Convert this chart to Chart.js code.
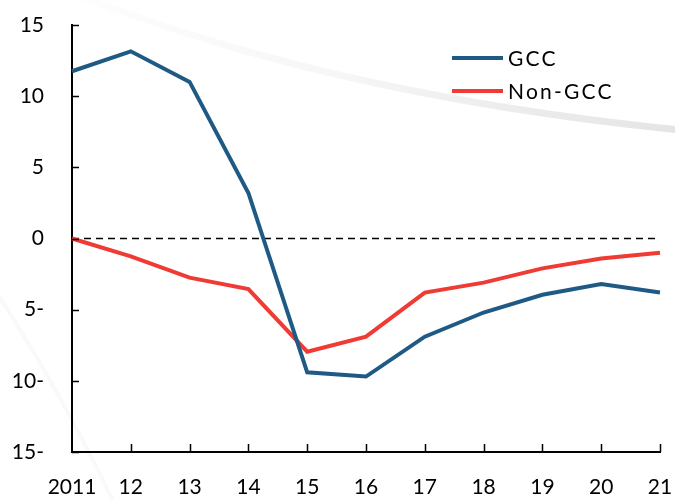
<!DOCTYPE html>
<html>
<head>
<meta charset="utf-8">
<script src="https://cdn.jsdelivr.net/npm/chart.js@4.4.1/dist/chart.umd.min.js"></script>
<style>
  html, body { margin: 0; padding: 0; background: #ffffff; }
  #wrap { width: 675px; height: 500px; position: relative; }
</style>
</head>
<body>
<div id="wrap"><canvas id="c" width="675" height="500"></canvas></div>
<script>
const categories = ['2011', '12', '13', '14', '15', '16', '17', '18', '19', '20', '21'];
const gccValues = [11.75, 13.15, 11.0, 3.2, -9.4, -9.7, -6.9, -5.2, -3.95, -3.2, -3.8];
const nonGccValues = [0.0, -1.25, -2.75, -3.55, -7.95, -6.9, -3.8, -3.1, -2.1, -1.4, -1.0];
const zeroLine = [0, 0, 0, 0, 0, 0, 0, 0, 0, 0, 0];
const seriesNames = ['GCC', 'Non-GCC'];
const seriesColors = ['#1f5a85', '#ef3b34'];
const yTickValues = [-15, -10, -5, 0, 5, 10, 15];
const yTickLabels = ['15-', '10-', '5-', '0', '5', '10', '15'];

const FONT = 'Lato, "Open Sans", sans-serif';

const backgroundSwoosh = {
  id: 'swoosh',
  beforeDraw(chart) {
    const ctx = chart.ctx;
    ctx.save();
    const g = ctx.createLinearGradient(60, 0, 675, 0);
    g.addColorStop(0, 'rgba(230,231,232,0.05)');
    g.addColorStop(0.45, 'rgba(230,231,232,0.35)');
    g.addColorStop(0.75, 'rgba(230,231,232,0.8)');
    g.addColorStop(1, 'rgba(228,229,230,1)');
    ctx.strokeStyle = g;
    ctx.lineWidth = 7;
    ctx.beginPath();
    ctx.moveTo(70, -8);
    ctx.quadraticCurveTo(330, 95, 680, 130);
    ctx.stroke();
    ctx.strokeStyle = 'rgba(238,239,240,0.35)';
    ctx.lineWidth = 4;
    ctx.beginPath();
    ctx.moveTo(-5, 290);
    ctx.quadraticCurveTo(60, 390, 115, 505);
    ctx.stroke();
    ctx.restore();
  }
};

const axisTicks = {
  id: 'axisTicks',
  afterDatasetsDraw(chart) {
    const ctx = chart.ctx;
    const x = chart.scales.x, y = chart.scales.y;
    ctx.save();
    ctx.strokeStyle = '#000';
    ctx.lineWidth = 1.5;
    ctx.beginPath();
    yTickValues.forEach(v => {
      const py = Math.round(y.getPixelForValue(v)) + 0.5;
      ctx.moveTo(x.left, py);
      ctx.lineTo(x.left + 7, py);
    });
    categories.forEach((c, i) => {
      if (i === 0) return;
      const px = Math.round(x.getPixelForValue(i)) + 0.5;
      ctx.moveTo(px, y.bottom);
      ctx.lineTo(px, y.bottom - 8);
    });
    ctx.stroke();
    ctx.restore();
  }
};

const customLegend = {
  id: 'customLegend',
  afterDraw(chart) {
    const ctx = chart.ctx;
    ctx.save();
    ctx.font = '21px ' + FONT;
    ctx.textBaseline = 'middle';
    ctx.textAlign = 'left';
    try { ctx.letterSpacing = '2.2px'; } catch (e) {}
    const rows = [58, 91];
    seriesNames.forEach((name, i) => {
      ctx.strokeStyle = seriesColors[i];
      ctx.lineWidth = 4;
      ctx.beginPath();
      ctx.moveTo(452, rows[i]);
      ctx.lineTo(503, rows[i]);
      ctx.stroke();
      ctx.fillStyle = '#000';
      ctx.fillText(name, 508, rows[i] + 1);
    });
    ctx.restore();
  }
};

new Chart(document.getElementById('c'), {
  type: 'line',
  data: {
    labels: categories,
    datasets: [
      { label: 'zero', data: zeroLine, borderColor: '#000', borderWidth: 1.5, borderDash: [7, 5], pointRadius: 0, fill: false, order: 3 },
      { label: seriesNames[1], data: nonGccValues, borderColor: seriesColors[1], borderWidth: 4, pointRadius: 0, tension: 0, fill: false, order: 2 },
      { label: seriesNames[0], data: gccValues, borderColor: seriesColors[0], borderWidth: 4, pointRadius: 0, tension: 0, fill: false, order: 1 }
    ]
  },
  options: {
    responsive: false,
    animation: false,
    devicePixelRatio: 1,
    layout: { padding: { left: 0, right: 15, top: 25, bottom: 0 } },
    plugins: { legend: { display: false }, tooltip: { enabled: false } },
    scales: {
      x: {
        offset: false,
        grid: { display: false, drawTicks: false },
        border: { display: true, color: '#000', width: 2 },
        ticks: { color: '#000', font: { family: FONT, size: 21 }, padding: 23, maxRotation: 0, autoSkip: false },
        afterFit(scale) { scale.height = 48; scale.paddingLeft = 0; scale.paddingRight = 0; }
      },
      y: {
        min: -15, max: 15,
        grid: { display: false, drawTicks: false },
        border: { display: true, color: '#000', width: 2 },
        ticks: {
          stepSize: 5,
          color: '#000',
          font: { family: FONT, size: 21 },
          padding: 28,
          callback(v) { const i = yTickValues.indexOf(v); return i >= 0 ? yTickLabels[i] : ''; }
        },
        afterFit(scale) { scale.width = 72; scale.paddingTop = 0; scale.paddingBottom = 0; }
      }
    }
  },
  plugins: [backgroundSwoosh, axisTicks, customLegend]
});
</script>
</body>
</html>
